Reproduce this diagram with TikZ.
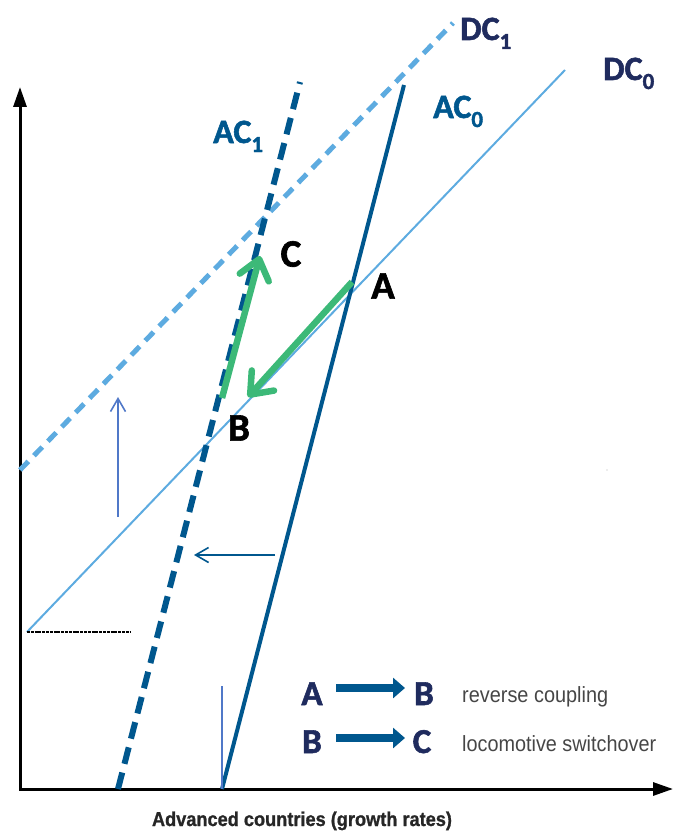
\documentclass[tikz,border=0pt]{standalone}
\usepackage{fontspec}
\setmainfont{Carlito}[BoldFont={Carlito Bold}, BoldFeatures={FakeBold=1.6}]
\newfontfamily\arialfont{Liberation Sans}[BoldFont={Liberation Sans Bold}, BoldFeatures={FakeBold=1}]
\usetikzlibrary{arrows.meta}
\definecolor{acblue}{RGB}{0,87,142}
\definecolor{dcblue}{RGB}{93,171,224}
\definecolor{navy}{RGB}{31,43,94}
\definecolor{agreen}{RGB}{60,185,120}
\definecolor{thinblue}{RGB}{80,120,200}
\definecolor{legendgray}{RGB}{70,70,70}
\tikzset{
  axisline/.style={line width=3pt, black, line join=miter},
  acsolid/.style={line width=4pt, acblue},
  acdashed/.style={line width=6pt, acblue, dash pattern=on 17pt off 9pt},
  dcsolid/.style={line width=2pt, dcblue},
  dcdashed/.style={line width=5pt, dcblue, dash pattern=on 12pt off 8pt},
  greenarrow/.style={line width=6.5pt, agreen, -{Straight Barb[length=19pt,width=30pt,round]}},
  thinarrow/.style={line width=1.6pt, -{Straight Barb[length=13pt,width=15pt]}},
  curvelabel/.style={inner sep=0pt, anchor=base west, font=\bfseries\fontsize{34}{34}\selectfont},
  pointlabel/.style={inner sep=0pt, anchor=center, text=black, font=\bfseries\fontsize{39}{39}\selectfont},
  legendletter/.style={inner sep=0pt, anchor=base, text=navy, font=\bfseries\fontsize{35}{35}\selectfont},
  legendarrow/.style={line width=8pt, acblue, -{Triangle[length=12pt,width=20pt]}},
  legendtext/.style={inner sep=0pt, anchor=base west, text=legendgray, font=\arialfont\fontsize{22}{22}\selectfont},
}
\newcommand{\subdigit}[1]{\raisebox{-9pt}{\fontsize{23}{23}\selectfont #1}}
\begin{document}
\begin{tikzpicture}[x=1pt,y=-1pt]
\useasboundingbox (0,0) rectangle (677,832);
% coordinates
\coordinate (O) at (20,789);
\coordinate (ytop) at (20,87);
\coordinate (xend) at (673,789);
\coordinate (dc0a) at (27,632);
\coordinate (dc0b) at (565,70);
\coordinate (dc1a) at (20,470);
\coordinate (dc1b) at (453,23);
\coordinate (ac0a) at (222,789);
\coordinate (ac0b) at (404,85);
\coordinate (ac1a) at (118,789);
\coordinate (ac1b) at (300,82);
\coordinate (Apt) at (352,282);
\coordinate (Bpt) at (248,397);
\coordinate (Bstart) at (222,398);
\coordinate (Cpt) at (260,256);
\coordinate (upa) at (118,517);
\coordinate (upb) at (118,397);
\coordinate (lefta) at (275,555);
\coordinate (leftb) at (194,555);
\coordinate (hla) at (27,632);
\coordinate (hlb) at (130,632);
\coordinate (vla) at (222,686);
\coordinate (vlb) at (222,789);

% axes
\draw[axisline, {Triangle[length=20pt,width=13pt]}-{Triangle[length=20pt,width=13pt]}] (ytop) -- (O) -- (xend);

% curves
\draw[dcsolid] (dc0a) -- (dc0b);
\draw[dcdashed] (dc1a) -- (dc1b);
\draw[acsolid] (ac0a) -- (ac0b);
\draw[acdashed] (ac1a) -- (ac1b);

% small marks
\draw[line width=1.5pt, black, dash pattern=on 3pt off 0.8pt] (hla) -- (hlb);
\draw[line width=1.2pt, thinblue] (vla) -- (vlb);
\draw[thinarrow, thinblue] (upa) -- (upb);
\draw[thinarrow, acblue] (lefta) -- (leftb);
\fill[gray!60] (607,470) circle (0.7);

% green arrows
\draw[greenarrow] (Apt) -- (Bpt);
\draw[greenarrow] (Bstart) -- (Cpt);

% curve labels
\node[curvelabel, text=navy] (lDC1) at (460,40) {DC\subdigit{1}};
\node[curvelabel, text=navy] (lDC0) at (603,80) {DC\subdigit{0}};
\node[curvelabel, text=acblue] (lAC0) at (433,118) {AC\subdigit{0}};
\node[curvelabel, text=acblue] (lAC1) at (213,143) {AC\subdigit{1}};

% point labels
\node[pointlabel] (lA) at (383,286) {A};
\node[pointlabel] (lB) at (239,428) {B};
\node[pointlabel] (lC) at (291,254) {C};

% legend
\node[legendletter] (g1a) at (312,705) {A};
\node[legendletter] (g1b) at (424,705) {B};
\draw[legendarrow] (336,688) -- (405,688);
\node[legendtext] (g1t) at (462,702) {\resizebox{146pt}{\height}{reverse coupling}};
\node[legendletter] (g2a) at (312,753) {B};
\node[legendletter] (g2b) at (422,753) {C};
\draw[legendarrow] (336,738) -- (405,738);
\node[legendtext] (g2t) at (462,751) {\resizebox{194pt}{\height}{locomotive switchover}};

% x label
\node[inner sep=0pt, anchor=base, text=black!85] (xlab) at (302,826) {\arialfont\bfseries\fontsize{20}{20}\selectfont\resizebox{300pt}{\height}{Advanced countries (growth rates)}};
\end{tikzpicture}
\end{document}
